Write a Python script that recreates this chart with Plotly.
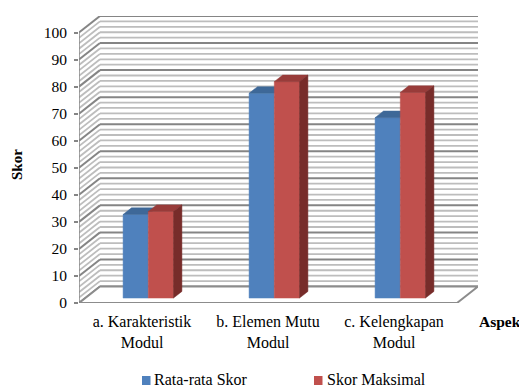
import plotly.graph_objects as go

# ---- data -------------------------------------------------------------
categories = ["a. Karakteristik<br>Modul", "b. Elemen Mutu<br>Modul", "c. Kelengkapan<br>Modul"]
series_names = ["Rata-rata Skor", "Skor Maksimal"]
rata_rata_skor = [30.9, 75.7, 66.7]
skor_maksimal = [32.0, 80.0, 76.0]
y_ticks = list(range(0, 101, 10))

# ---- 3D-look geometry (depth axis projected onto the 2D plane) --------
DX = 0.1667          # depth shift in category units
DY = 6.1             # depth shift in score units
BAR_W = 0.2          # width of one bar (category units)
BAR_FRONT, BAR_BACK = 0.3, 0.7   # bars occupy this slice of the depth
X0, X1 = -0.5, len(categories) - 0.5
YMAX = 100

FONT = "Times New Roman"
W, H = 519, 387
ML, MR, MT, MB = 79, 41, 16, 84

colors = {
    "Rata-rata Skor": dict(front="#4F81BD", top="#3E6898", side="#2F5580"),
    "Skor Maksimal": dict(front="#C0504D", top="#983C3A", side="#772C2A"),
}

fig = go.Figure()


def add_lines(xs, ys, color, width):
    fig.add_trace(go.Scatter(x=xs, y=ys, mode="lines", line=dict(color=color, width=width),
                             hoverinfo="skip", showlegend=False, cliponaxis=False))


# back wall and side wall stripes, major gridlines every 10
light_x, light_y, major_x, major_y = [], [], [], []
for v in range(0, YMAX + 1, 2):
    bx = [X0 + DX, X1 + DX, None, X0, X0 + DX, None]
    by = [v + DY, v + DY, None, v, v + DY, None]
    if v % 10 == 0:
        major_x += bx
        major_y += by
    else:
        light_x += bx
        light_y += by
add_lines(light_x, light_y, "#bdbdbd", 1.8)
add_lines(major_x, major_y, "#858585", 2)

# floor
fig.add_trace(go.Scatter(x=[X0, X1, X1 + DX, X0 + DX, X0], y=[0, 0, DY, DY, 0],
                         mode="lines", fill="toself", fillcolor="white",
                         line=dict(color="#8c8c8c", width=2), hoverinfo="skip",
                         showlegend=False, cliponaxis=False))
# front edge of the side wall (value axis line)
add_lines([X0, X0], [0, YMAX], "#858585", 1.5)

# ---- bars: front, top and side faces ----------------------------------
ox, oy = BAR_FRONT * DX, BAR_FRONT * DY
ddx, ddy = (BAR_BACK - BAR_FRONT) * DX, (BAR_BACK - BAR_FRONT) * DY


def faces(values, j):
    front, top, side = ([], []), ([], []), ([], [])
    for i, v in enumerate(values):
        xl = i - BAR_W + j * BAR_W + ox
        xr = xl + BAR_W
        front[0].extend([xl, xr, xr, xl, xl, None])
        front[1].extend([oy, oy, oy + v, oy + v, oy, None])
        top[0].extend([xl, xr, xr + ddx, xl + ddx, xl, None])
        top[1].extend([oy + v, oy + v, oy + v + ddy, oy + v + ddy, oy + v, None])
        side[0].extend([xr, xr + ddx, xr + ddx, xr, xr, None])
        side[1].extend([oy, oy + ddy, oy + v + ddy, oy + v, oy, None])
    return front, top, side


for j, (name, vals) in enumerate(zip(series_names, [rata_rata_skor, skor_maksimal])):
    front, top, side = faces(vals, j)
    c = colors[name]
    parts = [("front", front), ("top", top)]
    if j == len(series_names) - 1:
        parts.append(("side", side))
    for key, (xs, ys) in parts:
        fig.add_trace(go.Scatter(x=xs, y=ys, mode="lines", fill="toself",
                                 fillcolor=c[key], line=dict(color=c[key], width=0.5),
                                 name=name, hoverinfo="skip", showlegend=False))


# ---- text and legend --------------------------------------------------
def px_x(p):
    return (p - ML) / (W - ML - MR)


def px_y(p):
    return (H - MB - p) / (H - MT - MB)


annotations = [
    dict(text="<b>Skor</b>", x=px_x(17), y=px_y(165), textangle=-90, font=dict(size=15)),
    dict(text="<b>Aspek</b>", x=px_x(477), y=px_y(322), xanchor="left", font=dict(size=15.5)),
]
shapes = []
legend_pos = [(142, 151.5), (314, 324.5)]
for name, (sq_x, tx) in zip(series_names, legend_pos):
    shapes.append(dict(type="rect", xref="paper", yref="paper",
                       x0=px_x(sq_x), x1=px_x(sq_x + 8.5), y0=px_y(385), y1=px_y(376),
                       fillcolor=colors[name]["front"], line=dict(width=0)))
    annotations.append(dict(text=name, x=px_x(tx), y=px_y(379), xanchor="left",
                            font=dict(size=16)))
for a in annotations:
    a.update(xref="paper", yref="paper", showarrow=False)
    a.setdefault("xanchor", "center")
    a["yanchor"] = "middle"
    a["font"]["family"] = FONT

fig.update_layout(
    width=W, height=H,
    margin=dict(l=ML, r=MR, t=MT, b=MB),
    paper_bgcolor="white", plot_bgcolor="white",
    font=dict(family=FONT, color="black", size=15),
    showlegend=False,
    annotations=annotations, shapes=shapes,
    xaxis=dict(range=[X0, X1 + DX], tickvals=list(range(len(categories))), ticktext=categories,
               showgrid=False, zeroline=False, showline=False, ticks="",
               ticklabelstandoff=7,
               tickfont=dict(size=16, family=FONT), fixedrange=True),
    yaxis=dict(range=[0, YMAX + DY], tickvals=y_ticks, ticks="outside", ticklen=4,
               tickcolor="#858585", tickwidth=1.5, showgrid=False, zeroline=False,
               showline=False, ticklabelstandoff=4,
               tickfont=dict(size=15.5, family=FONT), fixedrange=True),
)

fig.write_html("out.html")
